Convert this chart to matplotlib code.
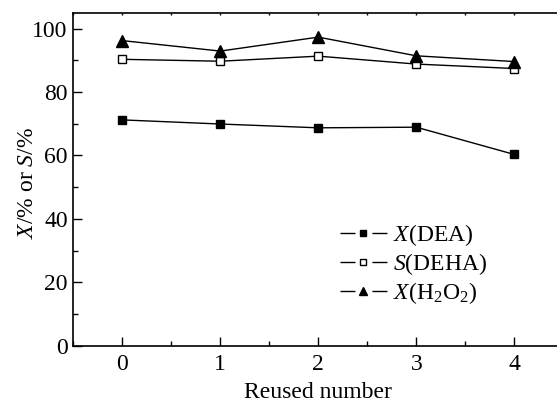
import matplotlib
matplotlib.use('Agg')
import matplotlib.pyplot as plt
from matplotlib.lines import Line2D
from matplotlib.ticker import MultipleLocator

# data
reused = [0, 1, 2, 3, 4]
x_dea = [71.2, 69.9, 68.7, 68.9, 60.3]
s_deha = [90.3, 89.7, 91.3, 88.8, 87.4]
x_h2o2 = [96.2, 92.9, 97.3, 91.4, 89.6]

labels = [r'$\mathit{X}$(DEA)', r'$\mathit{S}$(DEHA)', r'$\mathit{X}$(H$_2$O$_2$)']

plt.rcParams['font.family'] = ['Liberation Serif', 'DejaVu Serif']
plt.rcParams['mathtext.fontset'] = 'custom'
plt.rcParams['mathtext.rm'] = 'Liberation Serif'
plt.rcParams['mathtext.it'] = 'Liberation Serif:italic'
plt.rcParams['font.size'] = 17

fig = plt.figure(figsize=(5.57, 4.03), dpi=100)
# axes runs a bit past the right edge, like the cropped reference
ax = fig.add_axes([73.3 / 557, 57.3 / 403, 490 / 557, 333 / 403])

ax.plot(reused, x_dea, color='k', lw=1.0, marker='s', ms=6, mfc='k', mec='k')
ax.plot(reused, s_deha, color='k', lw=1.0, marker='s', ms=6, mfc='white', mec='k', mew=1.0)
ax.plot(reused, x_h2o2, color='k', lw=1.0, marker='^', ms=8.5, mfc='k', mec='k')

ax.set_xlim(-0.5, 4.5)
ax.set_ylim(0, 105)
ax.xaxis.set_major_locator(MultipleLocator(1))
ax.xaxis.set_minor_locator(MultipleLocator(0.5))
ax.yaxis.set_major_locator(MultipleLocator(20))
ax.yaxis.set_minor_locator(MultipleLocator(10))

ax.tick_params(which='both', direction='in', top=True, right=False, width=1.0)
ax.tick_params(which='major', length=6.5)
ax.tick_params(which='minor', length=3.6)
ax.tick_params(axis='x', pad=6)
ax.tick_params(axis='y', pad=4)
for side in ['left', 'bottom', 'top', 'right']:
    ax.spines[side].set_linewidth(1.2)

# top ticks are only tiny stubs in the reference
for t in ax.xaxis.get_major_ticks() + ax.xaxis.get_minor_ticks():
    t.tick2line.set_markersize(1.5)

ax.set_xlabel('Reused number')
ax.xaxis.set_label_coords(0.5, -0.11)
ax.set_ylabel(r'$\mathit{X}$/% or $\mathit{S}$/%')
ax.yaxis.set_label_coords(-0.072, 0.49)

handles = [
    Line2D([], [], color='k', lw=1.0, dashes=[10.8, 12.2], dash_capstyle='butt',
           marker='s', ms=6, mfc='k', mec='k'),
    Line2D([], [], color='k', lw=1.0, dashes=[10.8, 12.2], dash_capstyle='butt',
           marker='s', ms=6, mfc='white', mec='k'),
    Line2D([], [], color='k', lw=1.0, dashes=[10.8, 12.2], dash_capstyle='butt',
           marker='^', ms=8.5, mfc='k', mec='k'),
]
fig.legend(handles, labels, loc='center left',
           bbox_to_anchor=(340 / 557, 1 - 264 / 403), bbox_transform=fig.transFigure,
           frameon=False, borderpad=0, borderaxespad=0, handlelength=1.99,
           handletextpad=0.26, labelspacing=0.12, markerscale=0.75, numpoints=1)

fig.savefig('out.png', dpi=100)
